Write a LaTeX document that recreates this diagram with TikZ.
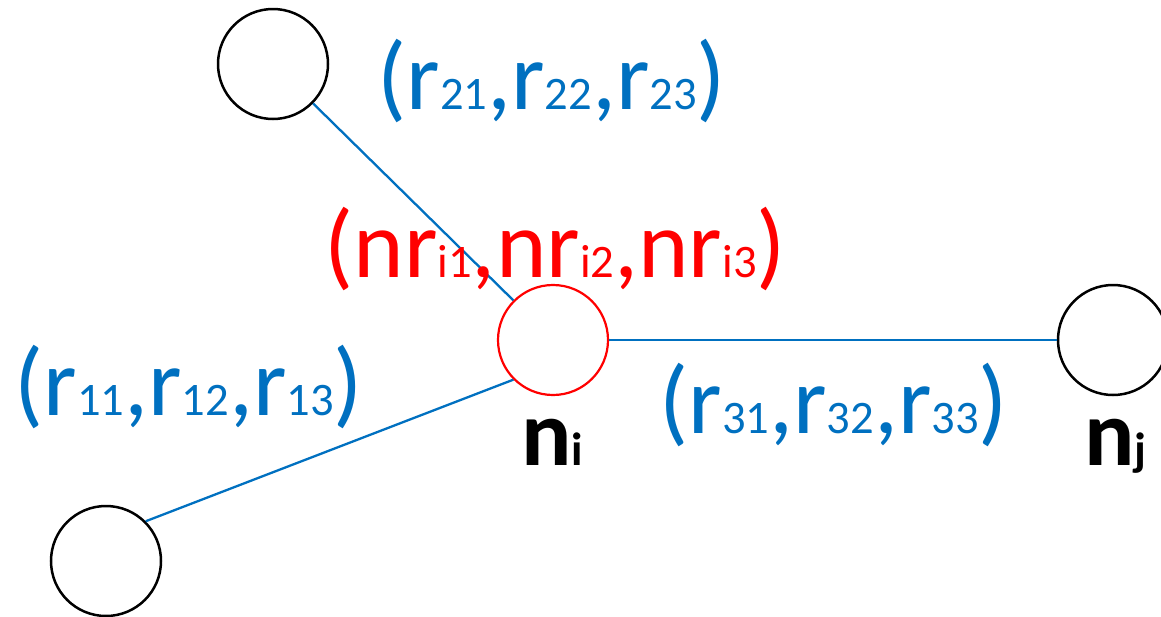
\documentclass[tikz,border=0pt]{standalone}
\usepackage{fontspec}
\setmainfont{Carlito}
\usepackage{xcolor}
\usetikzlibrary{positioning}
\definecolor{relblue}{HTML}{0070C0}
\definecolor{relred}{HTML}{FF0000}
\newcommand{\idx}[1]{{\fontsize{23.3pt}{25pt}\selectfont #1}}

\begin{document}
\begin{tikzpicture}[x=0.5pt,y=-0.5pt,
  every node/.style={inner sep=0pt},
  vertex/.style={circle,draw=black,line width=1.25pt,minimum size=55pt,fill=white},
  hub/.style={vertex,draw=relred,line width=1.1pt},
  rel/.style={anchor=base west,font=\fontsize{48.1pt}{52pt}\selectfont,text=relblue},
  nrel/.style={rel,text=relred},
  vname/.style={anchor=base west,font=\fontsize{47pt}{52pt}\selectfont\bfseries},
  link/.style={relblue,line width=1.15pt},
]
\useasboundingbox (0,0) rectangle (1161,616);
% vertices
\node[hub] (ni) at (553,340) {};
\node[vertex] (n2) at (273,64) {};
\node[vertex] (n1) at (106,561) {};
\node[vertex] (nj) at (1113,340) {};

% links
\draw[link] (n2) -- (ni.north west);
\draw[link] (n1.north east) -- (ni.south west);
\draw[link] (ni) -- (nj);

% labels
\node[rel] (l2) at (377,109) {(r\idx{21},r\idx{22},r\idx{23})};
\node[nrel] (lnr) at (324,277) {(nr\idx{i1},nr\idx{i2},nr\idx{i3})};
\node[rel] (l1) at (14,415) {(r\idx{11},r\idx{12},r\idx{13})};
\node[rel] (l3) at (659,433) {(r\idx{31},r\idx{32},r\idx{33})};
\node[vname] (lni) at (521,465) {n\idx{i}};
\node[vname] (lnj) at (1084,465) {n\idx{j}};
\end{tikzpicture}
\end{document}
